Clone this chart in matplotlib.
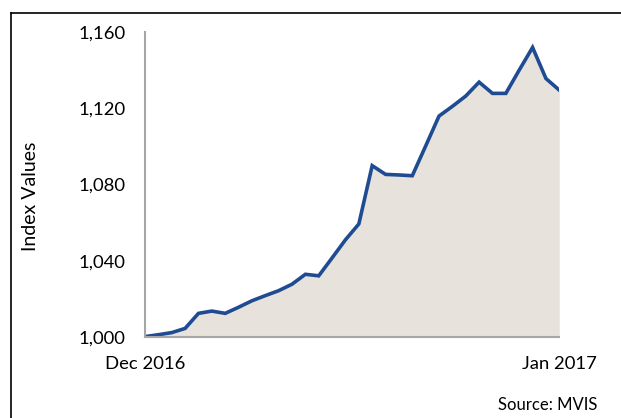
import matplotlib
matplotlib.use("Agg")
from matplotlib import pyplot as plt
from matplotlib.lines import Line2D
from matplotlib.ticker import FuncFormatter
import numpy as np

plt.rcParams['font.family'] = ['Lato', 'DejaVu Sans']

# daily index values, Dec 2016 -> Jan 2017
values = [1000.2, 1001.2, 1002.3, 1004.5, 1012.4, 1013.6, 1012.4, 1015.6,
          1019.0, 1021.7, 1024.3, 1027.7, 1032.9, 1032.1, 1041.5, 1051.0,
          1059.3, 1089.9, 1085.3, 1085.0, 1084.6, 1100.2, 1115.9, 1121.0,
          1126.4, 1133.7, 1127.8, 1127.8, 1140.0, 1151.9, 1135.6, 1129.5]
yticks = [1000, 1040, 1080, 1120, 1160]
xlabels = ["Dec 2016", "Jan 2017"]

x = np.arange(len(values))

fig = plt.figure(figsize=(6.21, 4.18), dpi=100)
ax = fig.add_axes([145/621, 81/418, (559.3-145)/621, 305/418])

ax.fill_between(x, 1000, values, color='#E7E3DC', lw=0)
ax.plot(x, values, color='#1F4B93', lw=2.6, solid_joinstyle='miter')

ax.set_xlim(0, len(values) - 1)
ax.set_ylim(1000, 1160)
ax.set_yticks(yticks)
ax.yaxis.set_major_formatter(FuncFormatter(lambda v, p: f"{int(v):,}"))
ax.set_xticks([0, len(values) - 1])
ax.set_xticklabels(xlabels)
ax.tick_params(axis='both', length=0, labelsize=13.3, colors='black')
ax.tick_params(axis='y', pad=14)
ax.tick_params(axis='x', pad=14)

for s in ['top', 'right']:
    ax.spines[s].set_visible(False)
for s in ['left', 'bottom']:
    ax.spines[s].set_color('#A6A6A6')
    ax.spines[s].set_linewidth(1.5)

ax.set_ylabel("Index Values", fontsize=14, labelpad=0)
ax.yaxis.set_label_coords(-(145 - 39) / (559.3 - 145), 0.46)

fig.text(597/621, 1 - 405/418, "Source: MVIS", ha='right', va='center', fontsize=12)

# frame around the figure (only left and top edges are visible)
fig.add_artist(Line2D([10.5/621, 10.5/621], [0, 1 - 13/418], color='black', lw=1.2))
fig.add_artist(Line2D([10.5/621, 1], [1 - 13/418, 1 - 13/418], color='black', lw=1.2))

fig.savefig("out.png", dpi=100)
